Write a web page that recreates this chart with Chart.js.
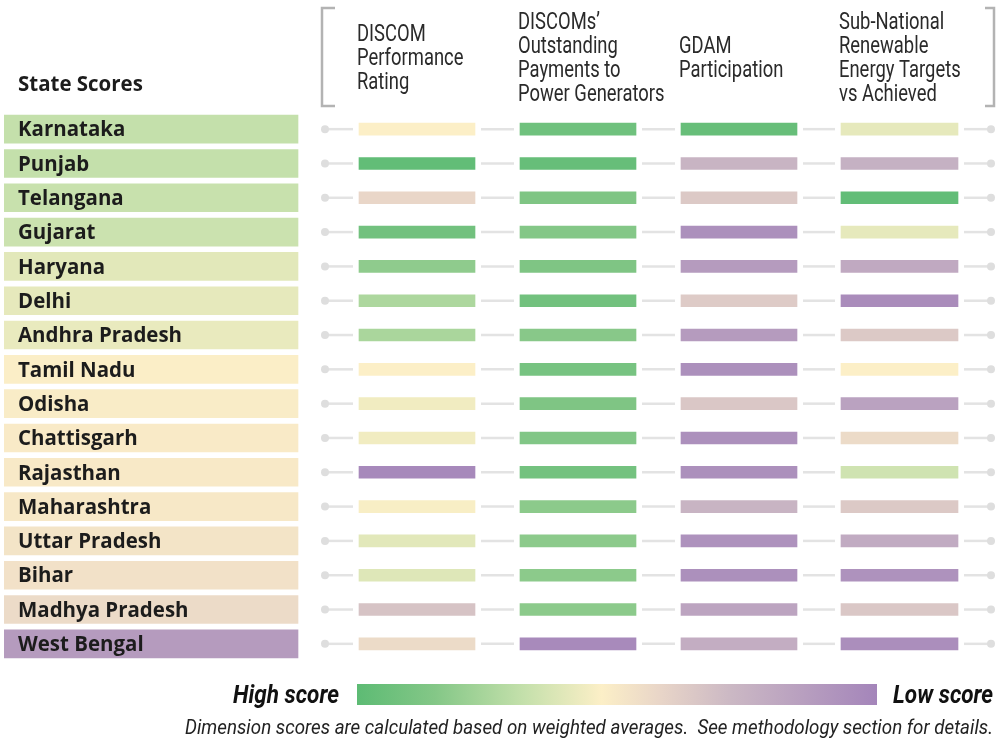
<!DOCTYPE html>
<html>
<head>
<meta charset="utf-8">
<script src="https://cdn.jsdelivr.net/npm/chart.js@4.4.1/dist/chart.umd.min.js"></script>
<style>
  html, body { margin: 0; padding: 0; background: #fff; }
  #wrap { position: relative; width: 999px; height: 744px; }
</style>
</head>
<body>
<div id="wrap"><canvas id="chart"></canvas></div>
<script>
// 州名（上から順）
const states = [
    'Karnataka', 'Punjab', 'Telangana', 'Gujarat', 'Haryana', 'Delhi',
    'Andhra Pradesh', 'Tamil Nadu', 'Odisha', 'Chattisgarh', 'Rajasthan',
    'Maharashtra', 'Uttar Pradesh', 'Bihar', 'Madhya Pradesh', 'West Bengal'
];

// 総合スコア（1 = 高, 0 = 低）ラベル背景色に使う
const overallScores = [0.68, 0.68, 0.67, 0.66, 0.60, 0.59, 0.58, 0.525, 0.515, 0.51, 0.505, 0.50, 0.48, 0.47, 0.44, 0.12];

// 各指標のスコア（色から読み取った推定値）
const discomRating        = [0.53, 0.98, 0.42, 0.92, 0.82, 0.74, 0.75, 0.53, 0.56, 0.56, 0.02, 0.54, 0.60, 0.61, 0.33, 0.44];
const outstandingPayments = [0.93, 0.96, 0.87, 0.85, 0.87, 0.92, 0.84, 0.90, 0.87, 0.86, 0.91, 0.83, 0.83, 0.83, 0.83, 0.03];
const gdamParticipation   = [0.96, 0.26, 0.36, 0.06, 0.12, 0.37, 0.12, 0.06, 0.35, 0.06, 0.06, 0.26, 0.07, 0.06, 0.17, 0.22];
const reTargets           = [0.59, 0.24, 0.98, 0.59, 0.20, 0.04, 0.36, 0.53, 0.16, 0.44, 0.65, 0.36, 0.21, 0.07, 0.35, 0.05];

// 列見出し
const dimensionTitles = [
    ['DISCOM', 'Performance', 'Rating'],
    ['DISCOMs\u2019', 'Outstanding', 'Payments to', 'Power Generators'],
    ['GDAM', 'Participation'],
    ['Sub-National', 'Renewable', 'Energy Targets', 'vs Achieved']
];
const rowTitle = 'State Scores';
const legendLabels = ['High score', 'Low score'];
const footnote = 'Dimension scores are calculated based on weighted averages.  See methodology section for details.';

// レイアウト（x軸の単位 = px）
const labelSpan = [0, 294];
const colSpans = [[355, 471], [516, 632], [677, 793], [837, 954]];
const connectorEnds = [321, 987];

// スコア -> 色 のカラーストップ
const colorStops = [
    [1.00, [93, 187, 116]],
    [0.85, [132, 199, 135]],
    [0.68, [196, 224, 171]],
    [0.53, [252, 239, 199]],
    [0.42, [233, 214, 200]],
    [0.28, [203, 184, 196]],
    [0.00, [164, 133, 186]]
];

function scoreColor(s) {
    for (let i = 0; i < colorStops.length - 1; i++) {
        const [s1, c1] = colorStops[i];
        const [s2, c2] = colorStops[i + 1];
        if (s <= s1 && s >= s2) {
            const t = (s1 - s) / (s1 - s2);
            const c = c1.map((v, k) => Math.round(v + (c2[k] - v) * t));
            return `rgb(${c[0]}, ${c[1]}, ${c[2]})`;
        }
    }
    const c = s > 1 ? colorStops[0][1] : colorStops[colorStops.length - 1][1];
    return `rgb(${c[0]}, ${c[1]}, ${c[2]})`;
}

const dimensionScores = [discomRating, outstandingPayments, gdamParticipation, reTargets];

// データセット作成
const datasets = [{
    label: rowTitle,
    data: states.map(() => labelSpan),
    backgroundColor: overallScores.map(scoreColor),
    barThickness: 28,
    grouped: false
}];
dimensionScores.forEach((scores, i) => {
    datasets.push({
        label: dimensionTitles[i].join(' '),
        data: scores.map(() => colSpans[i]),
        backgroundColor: scores.map(scoreColor),
        barThickness: 12,
        grouped: false
    });
});

// 横方向に縮めて文字を描く（コンデンス書体の代わり）
function narrowText(ctx, text, x, y, align, sx) {
    const w = ctx.measureText(text).width * sx;
    let left = x;
    if (align === 'right') left = x - w;
    ctx.save();
    ctx.textAlign = 'left';
    ctx.translate(left, y);
    ctx.scale(sx, 1);
    ctx.fillText(text, 0, 0);
    ctx.restore();
}

// 接続線（灰色の線と丸）
const connectorPlugin = {
    id: 'connectors',
    beforeDatasetsDraw(chart) {
        const { ctx, scales: { x, y } } = chart;
        const stops = [connectorEnds[0]];
        colSpans.forEach(s => { stops.push(s[0] - 6, s[1] + 6); });
        stops.push(connectorEnds[1]);
        ctx.save();
        ctx.strokeStyle = '#e3e3e3';
        ctx.fillStyle = '#dedede';
        ctx.lineWidth = 2.5;
        states.forEach((s, i) => {
            const py = y.getPixelForValue(i);
            for (let k = 0; k < stops.length; k += 2) {
                ctx.beginPath();
                ctx.moveTo(x.getPixelForValue(stops[k]), py);
                ctx.lineTo(x.getPixelForValue(stops[k + 1]), py);
                ctx.stroke();
            }
            connectorEnds.forEach(e => {
                ctx.beginPath();
                ctx.arc(x.getPixelForValue(e), py, 4, 0, Math.PI * 2);
                ctx.fill();
            });
        });
        ctx.restore();
    }
};

// テキスト類（州名・見出し・凡例・注記）
const textPlugin = {
    id: 'texts',
    afterDatasetsDraw(chart) {
        const { ctx, scales: { x, y } } = chart;
        ctx.save();

        // 州名
        ctx.fillStyle = '#1c1c1c';
        ctx.font = '700 22px "Open Sans"';
        ctx.textBaseline = 'middle';
        ctx.textAlign = 'left';
        states.forEach((s, i) => {
            narrowText(ctx, s, x.getPixelForValue(labelSpan[0]) + 14, y.getPixelForValue(i) + 1, 'left', 0.93);
        });

        // 行見出し
        narrowText(ctx, rowTitle, x.getPixelForValue(labelSpan[0]) + 14, 85, 'left', 0.93);

        // 列見出し
        ctx.fillStyle = '#2a2a2a';
        ctx.font = '23px Roboto';
        ctx.textBaseline = 'alphabetic';
        dimensionTitles.forEach((lines, i) => {
            const px = x.getPixelForValue(colSpans[i][0]) - 2;
            lines.forEach((line, k) => {
                const by = 65 + (k - (lines.length - 1) / 2) * 24.3;
                narrowText(ctx, line, px, by, 'left', 0.8);
            });
        });

        // 括弧
        ctx.strokeStyle = '#b3b3b3';
        ctx.lineWidth = 2.5;
        ctx.beginPath();
        ctx.moveTo(335, 8); ctx.lineTo(322, 8); ctx.lineTo(322, 106); ctx.lineTo(335, 106);
        ctx.moveTo(985, 8); ctx.lineTo(994, 8); ctx.lineTo(994, 106); ctx.lineTo(985, 106);
        ctx.stroke();

        // 凡例グラデーション
        const gx0 = 357, gx1 = 877;
        const grad = ctx.createLinearGradient(gx0, 0, gx1, 0);
        colorStops.forEach(([s, c]) => {
            grad.addColorStop(1 - s, `rgb(${c[0]}, ${c[1]}, ${c[2]})`);
        });
        ctx.fillStyle = grad;
        ctx.fillRect(gx0, 684, gx1 - gx0, 21);

        ctx.fillStyle = '#111';
        ctx.font = 'italic bold 25px Roboto';
        narrowText(ctx, legendLabels[0], gx0 - 18, 703, 'right', 0.9);
        narrowText(ctx, legendLabels[1], gx1 + 16, 703, 'left', 0.9);

        // 注記（幅に合わせて縮める）
        ctx.fillStyle = '#222';
        ctx.font = 'italic 21px Roboto';
        const fw = ctx.measureText(footnote).width;
        narrowText(ctx, footnote, 993, 734, 'right', 808 / fw);

        ctx.restore();
    }
};

const chart = new Chart(document.getElementById('chart'), {
    type: 'bar',
    data: { labels: states, datasets: datasets },
    options: {
        indexAxis: 'y',
        responsive: true,
        maintainAspectRatio: false,
        animation: false,
        layout: { padding: { left: 4, right: 0, top: 112, bottom: 83 } },
        plugins: {
            legend: { display: false },
            tooltip: { enabled: false }
        },
        scales: {
            x: { type: 'linear', min: 0, max: 995, display: false },
            y: { display: false }
        }
    },
    plugins: [connectorPlugin, textPlugin]
});
</script>
</body>
</html>
